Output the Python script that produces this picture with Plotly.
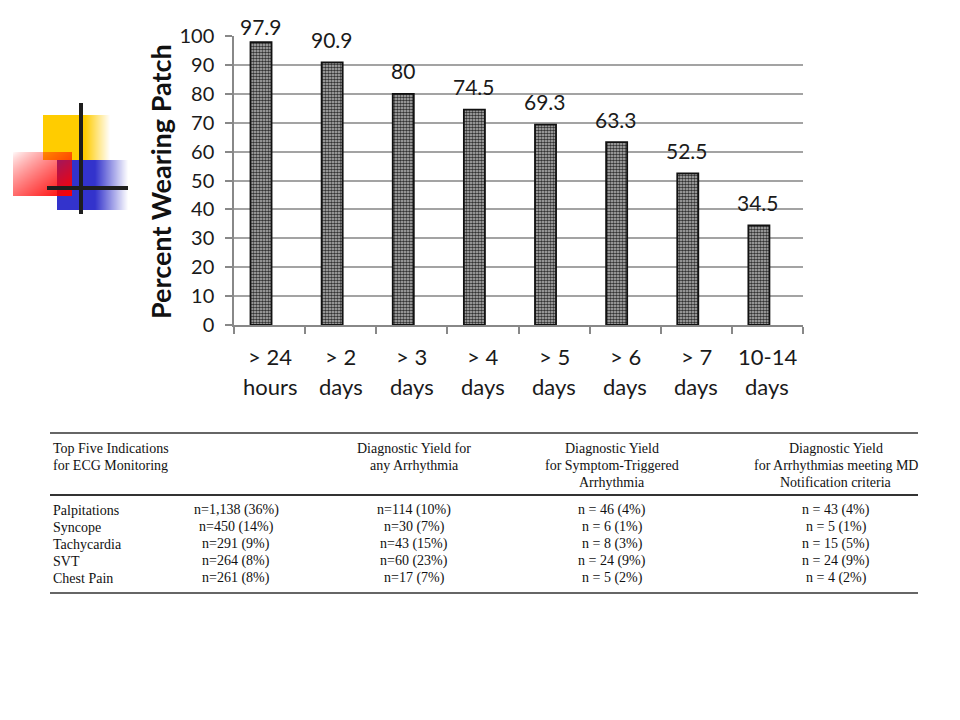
import numpy as np
import plotly.graph_objects as go

# ---------------- data ----------------
cat_line1 = ["> 24", "> 2", "> 3", "> 4", "> 5", "> 6", "> 7", "10-14"]
cat_line2 = ["hours", "days", "days", "days", "days", "days", "days", "days"]
values = [97.9, 90.9, 80, 74.5, 69.3, 63.3, 52.5, 34.5]
y_ticks = [0, 10, 20, 30, 40, 50, 60, 70, 80, 90, 100]
y_title = "Percent Wearing Patch"

tbl_header = [
    ["Top Five Indications", "for ECG Monitoring"],
    [],
    ["Diagnostic Yield for", "any Arrhythmia"],
    ["Diagnostic Yield", "for Symptom-Triggered", "Arrhythmia"],
    ["Diagnostic Yield", "for Arrhythmias meeting MD", "Notification criteria"],
]
indications = ["Palpitations", "Syncope", "Tachycardia", "SVT", "Chest Pain"]
counts = ["n=1,138 (36%)", "n=450 (14%)", "n=291 (9%)", "n=264 (8%)", "n=261 (8%)"]
yield_any = ["n=114 (10%)", "n=30 (7%)", "n=43 (15%)", "n=60 (23%)", "n=17 (7%)"]
yield_symptom = ["n = 46 (4%)", "n = 6 (1%)", "n = 8 (3%)", "n = 24 (9%)", "n = 5 (2%)"]
yield_md = ["n = 43 (4%)", "n = 5 (1%)", "n = 15 (5%)", "n = 24 (9%)", "n = 4 (2%)"]

# ---------------- helpers (page pixel -> paper) ----------------
W_FIG, H_FIG = 960, 720
OFF = 8  # page body margin
def px(x):
    return (x - OFF) / W_FIG
def py(y):
    return 1 - (y - OFF) / H_FIG

FONT = "Lato"
SERIF = "Liberation Serif"
xs = list(range(len(values)))

fig = go.Figure()

fig.add_trace(go.Bar(
    x=xs, y=values, width=0.296, offset=-0.268,
    marker=dict(
        color="#8a8a8a",
        line=dict(color="#111111", width=1.8),
        pattern=dict(shape=".", size=3, solidity=0.6, fgcolor="#333333", bgcolor="#c0c0c0"),
    ),
    hoverinfo="skip", showlegend=False, cliponaxis=False,
))

annotations = []
shifts = [16] + [23] * (len(values) - 1)
for i, v in enumerate(values):
    annotations.append(dict(
        x=i, y=v, xref="x", yref="y", text=f"{v:g}", showarrow=False,
        xanchor="center", yanchor="middle",
        xshift=-9, yshift=shifts[i], font=dict(family=FONT, size=21, color="#1a1a1a"),
    ))
for i in xs:
    annotations.append(dict(x=i, y=py(356), xref="x", yref="paper", text=cat_line1[i],
                            xanchor="center", yanchor="middle",
                            showarrow=False, font=dict(family=FONT, size=22, color="#1a1a1a")))
    annotations.append(dict(x=i, y=py(386), xref="x", yref="paper", text=cat_line2[i],
                            xanchor="center", yanchor="middle",
                            showarrow=False, font=dict(family=FONT, size=22, color="#1a1a1a")))
annotations.append(dict(x=px(160), y=py(182), xref="paper", yref="paper", text=f"<b>{y_title}</b>",
                        xanchor="center", yanchor="middle",
                        textangle=-90, showarrow=False, font=dict(family=FONT, size=27, color="#111")))

# ---------------- table ----------------
col_x = [51, 236, 414, 612, 836]
col_align = ["left", "center", "center", "center", "center"]
hdr_y = [448, 465, 482]
row_y = [510, 527, 544, 561, 578]
tfont = dict(family=SERIF, size=14, color="#111111")
for c, lines in enumerate(tbl_header):
    for j, t in enumerate(lines):
        annotations.append(dict(x=px(col_x[c]), y=py(hdr_y[j]), xref="paper", yref="paper", text=t,
                                showarrow=False, xanchor=col_align[c], yanchor="middle", font=tfont))
columns = [indications, counts, yield_any, yield_symptom, yield_md]
for c, col in enumerate(columns):
    for r, t in enumerate(col):
        annotations.append(dict(x=px(col_x[c]), y=py(row_y[r]), xref="paper", yref="paper", text=t,
                                showarrow=False, xanchor=col_align[c], yanchor="middle", font=tfont))

shapes = []
for yy, w in [(433, 1.5), (495, 2.2), (593, 1.5)]:
    shapes.append(dict(type="line", xref="paper", yref="paper", x0=px(50), x1=px(918),
                       y0=py(yy), y1=py(yy), line=dict(color="#333", width=w)))

# ---------------- decorative logo ----------------
X0, Y0, LW, LH = 10, 100, 122, 116
img = np.full((LH, LW, 3), 255.0)
XX, YY = np.meshgrid(np.arange(LW) + X0 + 0.5, np.arange(LH) + Y0 + 0.5)
def blend(alpha, color):
    global img
    a = alpha[..., None]
    img = img * (1 - a) + np.array(color, dtype=float) * a
inside = (XX >= 43) & (XX < 110) & (YY >= 115) & (YY < 160)
blend(np.clip((110 - XX) / 25.0, 0, 1) * inside, (255, 204, 0))
inside = (XX >= 57) & (XX < 128) & (YY >= 160) & (YY < 210)
blend(np.clip((128 - XX) / 33.0, 0, 1) * inside, (51, 51, 204))
inside = (XX >= 13) & (XX < 72) & (YY >= 152) & (YY < 196)
blend(np.clip(0.5 * ((XX - 13) / 59.0 + (YY - 152) / 44.0), 0, 1) ** 0.8 * inside, (255, 0, 0))
line_mask = ((np.abs(XX - 81) < 1.6) & (YY >= 103) & (YY < 214)) | \
            ((np.abs(YY - 188) < 1.6) & (XX >= 47) & (XX < 128))
blend(line_mask.astype(float), (30, 30, 30))
fig.add_trace(go.Image(z=img.astype(np.uint8), xaxis="x2", yaxis="y2", hoverinfo="skip"))

fig.update_layout(
    template="none",
    width=W_FIG, height=H_FIG,
    margin=dict(l=0, r=0, t=0, b=0, pad=0, autoexpand=False),
    paper_bgcolor="white", plot_bgcolor="white",
    showlegend=False,
    xaxis=dict(
        domain=[px(234), px(803)], range=[-0.5, 7.5], automargin=False,
        tickvals=[i - 0.5 for i in range(len(values) + 1)], ticktext=[""] * (len(values) + 1),
        ticks="outside", ticklen=7, tickcolor="#888", tickwidth=1.5,
        showline=True, linecolor="#888", linewidth=1.5,
        showgrid=False, zeroline=False, fixedrange=True,
    ),
    yaxis=dict(
        domain=[py(325), py(36)], range=[0, 100], automargin=False,
        tickvals=y_ticks, ticks="outside", ticklen=7, tickcolor="#888", tickwidth=1.5,
        ticklabelstandoff=7,
        tickfont=dict(family=FONT, size=20, color="#1a1a1a"),
        showline=True, linecolor="#888", linewidth=1.5,
        showgrid=True, gridcolor="#a3a3a3", gridwidth=2, zeroline=False, fixedrange=True,
    ),
    xaxis2=dict(domain=[px(X0), px(X0 + LW)], range=[-0.5, LW - 0.5], visible=False,
                anchor="y2", automargin=False),
    yaxis2=dict(domain=[py(Y0 + LH), py(Y0)], range=[LH - 0.5, -0.5], visible=False,
                anchor="x2", automargin=False),
    annotations=annotations,
    shapes=shapes,
)

fig.write_html("out.html")
